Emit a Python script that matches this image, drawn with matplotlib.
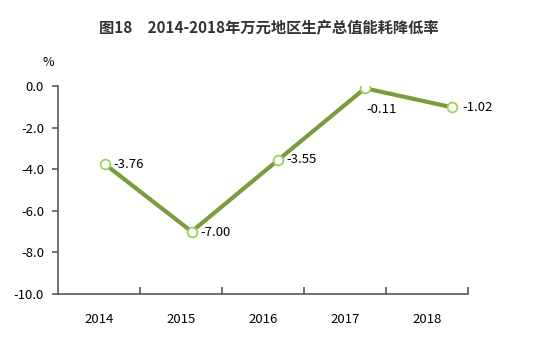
import numpy as np
import matplotlib.pyplot as plt
from matplotlib.ticker import FixedLocator

plt.rcParams['font.family'] = ['Noto Sans CJK SC', 'DejaVu Sans']

years = ['2014', '2015', '2016', '2017', '2018']
rates = [-3.76, -7.00, -3.55, -0.11, -1.02]
labels = ['-3.76', '-7.00', '-3.55', '-0.11', '-1.02']

fig = plt.figure(figsize=(5.54, 3.49), dpi=100)
ax = fig.add_axes([0.1047, 0.1576, 0.7401, 0.596])

pos = np.arange(len(years))
# points sit slightly right of the category centres in the original
xpts = pos * 1.057 + 0.073
ax.plot(xpts, rates, color='#7b9c3e', lw=3, marker='o', ms=7,
        mfc='white', mec='#9bd35a', mew=1.3, zorder=3)

offsets = [(6, 0), (6, -1), (6, 0), (1, -15), (8, 0)]
for x, y, t, (dx, dy) in zip(xpts, rates, labels, offsets):
    ax.annotate(t, (x, y), xytext=(dx, dy), textcoords='offset points',
                ha='left', va='center', fontsize=9.5, color='black')

ax.set_xlim(-0.5, 4.5)
ax.set_ylim(-10, 0)
yt = np.arange(-10, 0.1, 2)
ax.set_yticks(yt)
ax.set_yticklabels([f'{v:.1f}' for v in yt], fontsize=9.5)
ax.set_xticks(pos)
ax.set_xticklabels(years, fontsize=9.5)
ax.xaxis.set_minor_locator(FixedLocator(np.arange(0.5, 4.6, 1)))
ax.tick_params(axis='x', which='major', length=0, pad=14)
ax.tick_params(axis='x', which='minor', direction='in', length=5, color='#595959', width=1.2)
ax.tick_params(axis='y', direction='out', length=4, color='#595959', width=1.2, pad=6)

for s in ['top', 'right']:
    ax.spines[s].set_visible(False)
for s in ['left', 'bottom']:
    ax.spines[s].set_color('#595959')
    ax.spines[s].set_linewidth(1.2)

fig.text(0.486, 0.92, '图18\u30002014-2018年万元地区生产总值能耗降低率',
         ha='center', va='center', fontsize=11, fontweight='bold', color='#333333')
fig.text(0.087, 0.82, '%', ha='center', va='center', fontsize=9)

fig.savefig('out.png', dpi=100)
